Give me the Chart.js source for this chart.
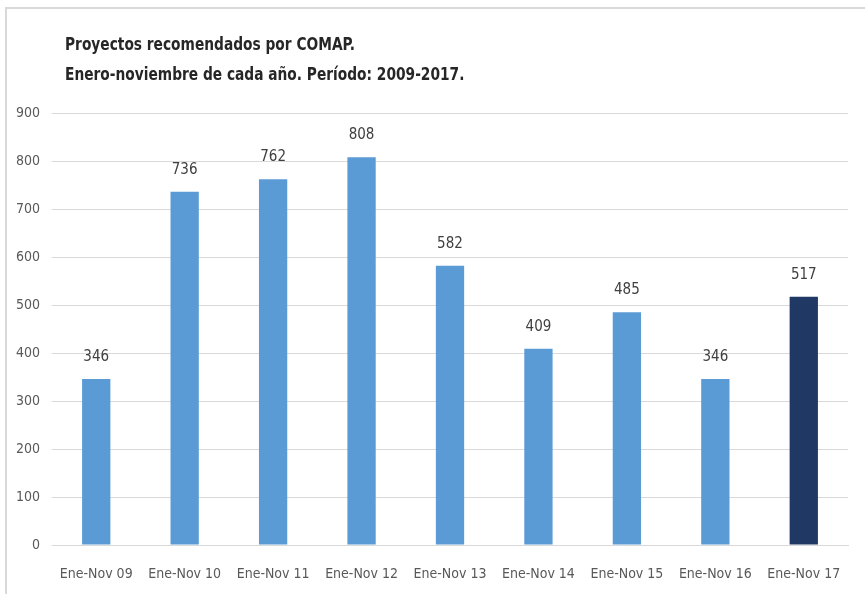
<!DOCTYPE html>
<html>
<head>
<meta charset="utf-8">
<script src="https://cdn.jsdelivr.net/npm/chart.js@4"></script>
<style>
  html, body { margin: 0; padding: 0; background: #fff; }
  #wrap { position: relative; width: 865px; height: 594px; overflow: hidden; }
  #frame { position: absolute; left: 5px; top: 7px; width: 900px; height: 700px; border-top: 2px solid #d9d9d9; border-left: 2px solid #d9d9d9; }
  canvas { position: absolute; left: 0; top: 0; }
</style>
</head>
<body>
<div id="wrap">
  <div id="frame"></div>
  <canvas id="chart" width="865" height="594"></canvas>
</div>
<script>
//---data---
var categories = ['Ene-Nov 09', 'Ene-Nov 10', 'Ene-Nov 11', 'Ene-Nov 12', 'Ene-Nov 13', 'Ene-Nov 14', 'Ene-Nov 15', 'Ene-Nov 16', 'Ene-Nov 17'];
var proyectos = [346, 736, 762, 808, 582, 409, 485, 346, 517];
var titleLines = ['Proyectos recomendados por COMAP.', 'Enero-noviembre de cada año. Período: 2009-2017.'];

var FONT = '"Liberation Sans Narrow", "DejaVu Sans Condensed", sans-serif';

// colour: last bar dark, rest light blue
var barColors = proyectos.map(function (v, i) {
  return i === proyectos.length - 1 ? '#203864' : '#5b9bd5';
});

//---plugins---
var titlePlugin = {
  id: 'titleText',
  afterDraw: function (chart) {
    var ctx = chart.ctx;
    ctx.save();
    ctx.fillStyle = '#262626';
    ctx.font = 'bold 18px ' + FONT;
    ctx.textBaseline = 'middle';
    ctx.textAlign = 'left';
    ctx.translate(65, 0);
    ctx.scale(0.85, 1); // title in the picture is narrower
    ctx.fillText(titleLines[0], 0, 45);
    ctx.fillText(titleLines[1], 0, 75);
    ctx.restore();
  }
};

var valueLabels = {
  id: 'valueLabels',
  afterDatasetsDraw: function (chart) {
    var ctx = chart.ctx;
    var meta = chart.getDatasetMeta(0);
    ctx.save();
    ctx.fillStyle = '#404040';
    ctx.font = '15px ' + FONT;
    ctx.textAlign = 'center';
    ctx.textBaseline = 'middle';
    meta.data.forEach(function (bar, i) {
      ctx.fillText(proyectos[i], bar.x, bar.y - 22);
    });
    ctx.restore();
  }
};

//---chart---
new Chart(document.getElementById('chart'), {
  type: 'bar',
  data: {
    labels: categories,
    datasets: [{
      data: proyectos,
      backgroundColor: barColors,
      barPercentage: 0.32,
      categoryPercentage: 1.0
    }]
  },
  options: {
    responsive: false,
    animation: false,
    layout: { padding: { top: 113, left: 0, right: 17, bottom: 0 } },
    plugins: {
      legend: { display: false },
      tooltip: { enabled: false }
    },
    scales: {
      x: {
        grid: { display: false },
        border: { color: '#d9d9d9', width: 1 },
        ticks: { color: '#595959', font: { family: FONT, size: 14 }, padding: 13, maxRotation: 0 },
        afterFit: function (scale) { scale.height = 49; }
      },
      y: {
        min: 0,
        max: 900,
        grid: { color: '#d9d9d9', drawTicks: false },
        border: { display: false },
        ticks: { stepSize: 100, color: '#595959', font: { family: FONT, size: 14 }, padding: 12 },
        afterFit: function (scale) { scale.width = 52; }
      }
    }
  },
  plugins: [titlePlugin, valueLabels]
});
</script>
</body>
</html>
